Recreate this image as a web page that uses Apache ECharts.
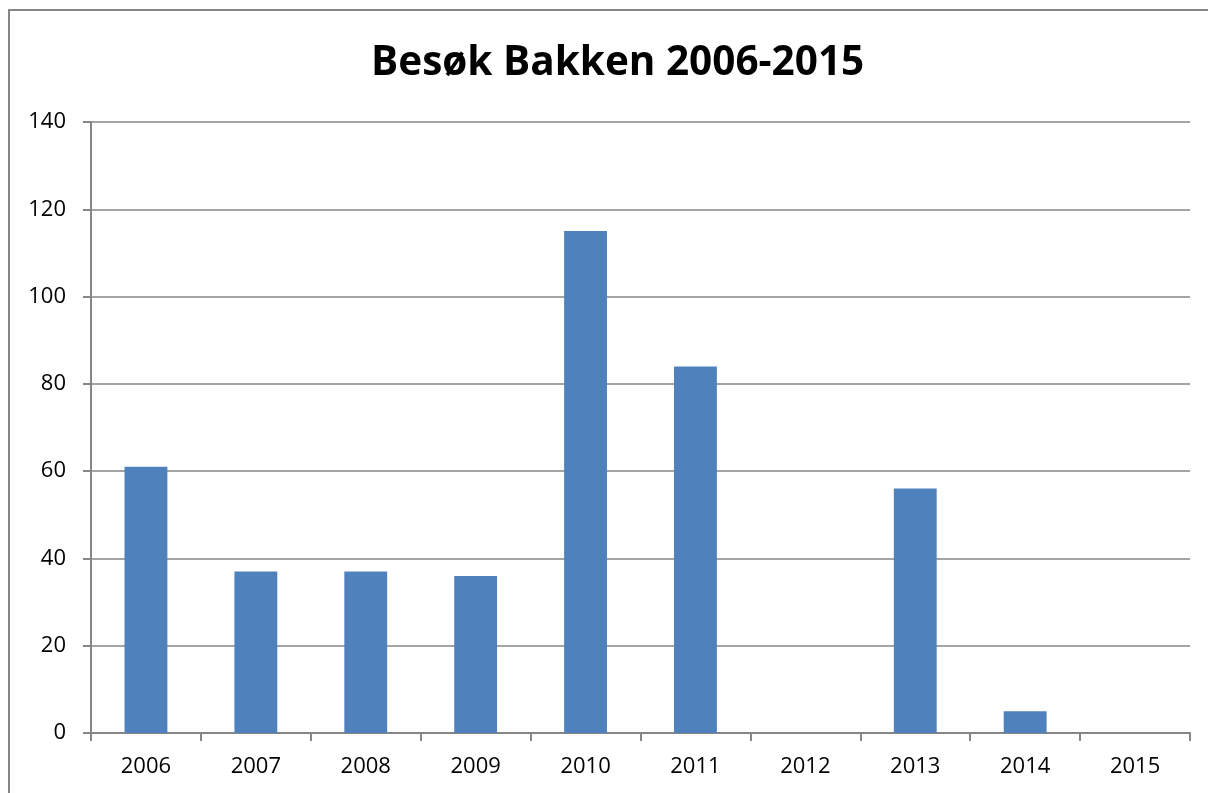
<!DOCTYPE html>
<html><head><meta charset="utf-8">
<script src="https://cdn.jsdelivr.net/npm/echarts@6/dist/echarts.min.js"></script>
<style>html,body{margin:0;padding:0;background:#fff}#c{width:1208px;height:793px}</style>
</head><body><div id="c"></div>
<script>
const titleText = 'Besøk Bakken 2006-2015';
const years = ['2006','2007','2008','2009','2010','2011','2012','2013','2014','2015'];
const visits = [61, 37, 37, 36, 115, 84, 0, 56, 5, 0];
const yTicks = {min: 0, max: 140, interval: 20};

const chart = echarts.init(document.getElementById('c'));
chart.setOption({
  animation: false,
  backgroundColor: '#fff',
  textStyle: {fontFamily: 'Open Sans, Noto Sans, sans-serif'},
  graphic: [{type: 'rect', shape: {x: 9, y: 10, width: 1250, height: 850},
    style: {fill: 'none', stroke: '#868686', lineWidth: 2}, silent: true}],
  title: {text: titleText, left: 366, top: 38,
    textStyle: {fontSize: 40.5, fontWeight: 'bold', color: '#000', fontFamily: 'Open Sans, sans-serif'}},
  grid: {left: 91, right: 18, top: 122, bottom: 60, containLabel: false},
  xAxis: {type: 'category', data: years,
    axisLine: {lineStyle: {color: '#868686', width: 2}},
    axisTick: {show: true, length: 8, alignWithLabel: false, lineStyle: {color: '#868686', width: 2}},
    axisLabel: {color: '#000', fontSize: 22, margin: 23}},
  yAxis: {type: 'value', min: yTicks.min, max: yTicks.max, interval: yTicks.interval,
    axisLine: {show: true, lineStyle: {color: '#868686', width: 2}},
    axisTick: {show: true, length: 8, lineStyle: {color: '#868686', width: 2}},
    splitLine: {lineStyle: {color: '#868686', width: 1.5}},
    axisLabel: {color: '#000', fontSize: 22, margin: 25}},
  series: [{type: 'bar', data: visits, barWidth: '39%',
    itemStyle: {color: '#4f81bd'}}]
});
</script></body></html>
